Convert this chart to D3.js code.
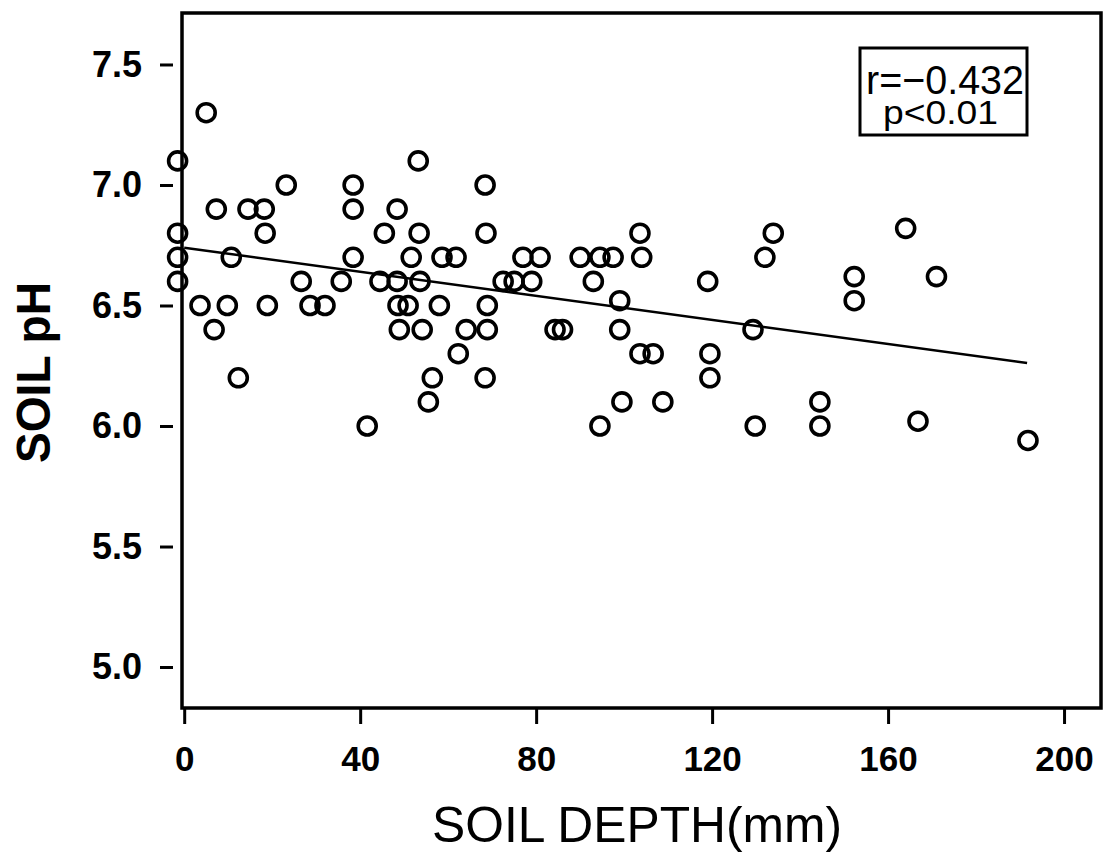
<!DOCTYPE html>
<html>
<head>
<meta charset="utf-8">
<script src="https://cdn.jsdelivr.net/npm/d3@7"></script>
<style>
    html, body { margin: 0; padding: 0; background: #fff; }
    svg text { font-family: 'Liberation Sans', Arial, sans-serif; fill: #000; }
</style>
</head>
<body>
<svg id="chart" width="1108" height="854"></svg>
<script>
    'use strict';

    // data
    const depth = [
        -1.5, -1.5, -1.5, -1.5, 5,
        3.6, 9.8, 18.9, 28.6, 32, 6.8, 12.3,
        7.3, 14.5, 18.2, 23.2, 18.4, 10.7, 26.6,
        53.2, 38.4, 68.4, 38.4, 48.4,
        45.5, 53.4, 68.6,
        38.4, 51.6, 58.6, 61.8,
        35.7, 44.5, 48.4, 53.6,
        48.6, 50.9, 58, 68.9,
        48.9, 54.1, 64.1, 68.9,
        62.3, 56.4, 68.4, 55.5, 41.6,
        77, 80.9, 90, 94.5, 97.5, 104, 103.6,
        72.5, 75, 79, 93, 99,
        84.3, 86, 99, 103.6, 106.6,
        99.5, 108.8, 94.5,
        133.9, 132, 119, 129.3, 119.5, 119.5, 129.8,
        144.5, 144.5, 164, 152.3, 152.3, 171, 166.8, 191.8
    ];
    const ph = [
        7.1, 6.8, 6.7, 6.6, 7.3,
        6.5, 6.5, 6.5, 6.5, 6.5, 6.4, 6.2,
        6.9, 6.9, 6.9, 7.0, 6.8, 6.7, 6.6,
        7.1, 7.0, 7.0, 6.9, 6.9,
        6.8, 6.8, 6.8,
        6.7, 6.7, 6.7, 6.7,
        6.6, 6.6, 6.6, 6.6,
        6.5, 6.5, 6.5, 6.5,
        6.4, 6.4, 6.4, 6.4,
        6.3, 6.2, 6.2, 6.1, 6.0,
        6.7, 6.7, 6.7, 6.7, 6.7, 6.7, 6.8,
        6.6, 6.6, 6.6, 6.6, 6.52,
        6.4, 6.4, 6.4, 6.3, 6.3,
        6.1, 6.1, 6.0,
        6.8, 6.7, 6.6, 6.4, 6.3, 6.2, 6.0,
        6.1, 6.0, 6.82, 6.62, 6.52, 6.62, 6.02, 5.94
    ];
    const xTicks = [0, 40, 80, 120, 160, 200];
    const yTicks = [5.0, 5.5, 6.0, 6.5, 7.0, 7.5];

    // fitted line: pH = intercept + slope * depth
    const fitIntercept = 6.74;
    const fitSlope = -0.0025;
    const fitRange = [0, 191.6];

    const statLines = ['r=\u22120.432', 'p<0.01'];

    // plot frame in page pixels
    const frame = { left: 182, right: 1101, top: 13, bottom: 708 };

    const svg = d3.select('#chart');

    const x = d3.scaleLinear()
        .domain([-0.5, 208.4])
        .range([frame.left, frame.right]);

    const y = d3.scaleLinear()
        .domain([4.83, 7.7136])
        .range([frame.bottom, frame.top]);

    /**
     * Draws the axes: ticks are drawn by d3, the frame by hand
     */
    function drawAxes() {
        let xAxis = svg.append('g')
            .attr('transform', `translate(0, ${frame.bottom})`)
            .call(d3.axisBottom(x)
                .tickValues(xTicks)
                .tickSize(16)
                .tickPadding(22)
                .tickFormat(d3.format('d')));

        xAxis.select('.domain').remove();
        xAxis.selectAll('line')
            .attr('stroke', '#000')
            .attr('stroke-width', 3);
        xAxis.selectAll('text')
            .attr('font-size', 35)
            .attr('font-weight', 'bold')
            .attr('font-family', "'Liberation Sans', Arial, sans-serif");

        let yAxis = svg.append('g')
            .attr('transform', `translate(${frame.left}, 0)`)
            .call(d3.axisLeft(y)
                .tickValues(yTicks)
                .tickSize(0)
                .tickPadding(40)
                .tickFormat(d3.format('.1f')));

        yAxis.select('.domain').remove();
        yAxis.selectAll('.tick')
            .append('line')
            .attr('x1', -22)
            .attr('x2', -9)
            .attr('stroke', '#000')
            .attr('stroke-width', 3);
        yAxis.selectAll('text')
            .attr('font-size', 36)
            .attr('font-weight', 'bold')
            .attr('font-family', "'Liberation Sans', Arial, sans-serif");

        svg.append('rect')
            .attr('x', frame.left)
            .attr('y', frame.top)
            .attr('width', frame.right - frame.left)
            .attr('height', frame.bottom - frame.top)
            .attr('fill', 'none')
            .attr('stroke', '#000')
            .attr('stroke-width', 3.5);
    }

    /**
     * Axis titles
     */
    function drawTitles() {
        svg.append('text')
            .attr('x', 432)
            .attr('y', 842)
            .attr('font-size', 50)
            .attr('textLength', 410)
            .attr('lengthAdjust', 'spacingAndGlyphs')
            .text('SOIL DEPTH(mm)');

        svg.append('text')
            .attr('transform', 'translate(50, 463) rotate(-90)')
            .attr('font-size', 48)
            .attr('font-weight', 'bold')
            .attr('textLength', 181)
            .attr('lengthAdjust', 'spacingAndGlyphs')
            .text('SOIL pH');
    }

    /**
     * Scatter points and the regression line
     */
    function drawData() {
        let points = depth.map((d, i) => ({ depth: d, ph: ph[i] }));

        svg.append('line')
            .attr('x1', x(fitRange[0]))
            .attr('y1', y(fitIntercept + fitSlope * fitRange[0]))
            .attr('x2', x(fitRange[1]))
            .attr('y2', y(fitIntercept + fitSlope * fitRange[1]))
            .attr('stroke', '#000')
            .attr('stroke-width', 2.5);

        svg.append('g')
            .selectAll('circle')
            .data(points)
            .join('circle')
            .attr('cx', d => x(d.depth))
            .attr('cy', d => y(d.ph))
            .attr('r', 9)
            .attr('fill', 'none')
            .attr('stroke', '#000')
            .attr('stroke-width', 3.6);
    }

    /**
     * Correlation box in the upper right
     */
    function drawStats() {
        svg.append('rect')
            .attr('x', 860)
            .attr('y', 48)
            .attr('width', 167)
            .attr('height', 87)
            .attr('fill', '#fff')
            .attr('stroke', '#000')
            .attr('stroke-width', 3);

        svg.append('text')
            .attr('x', 866)
            .attr('y', 94)
            .attr('font-size', 41)
            .attr('textLength', 158)
            .attr('lengthAdjust', 'spacingAndGlyphs')
            .text(statLines[0]);

        svg.append('text')
            .attr('x', 883)
            .attr('y', 124)
            .attr('font-size', 34)
            .attr('textLength', 115)
            .attr('lengthAdjust', 'spacingAndGlyphs')
            .text(statLines[1]);
    }

    drawAxes();
    drawTitles();
    drawData();
    drawStats();
</script>
</body>
</html>
